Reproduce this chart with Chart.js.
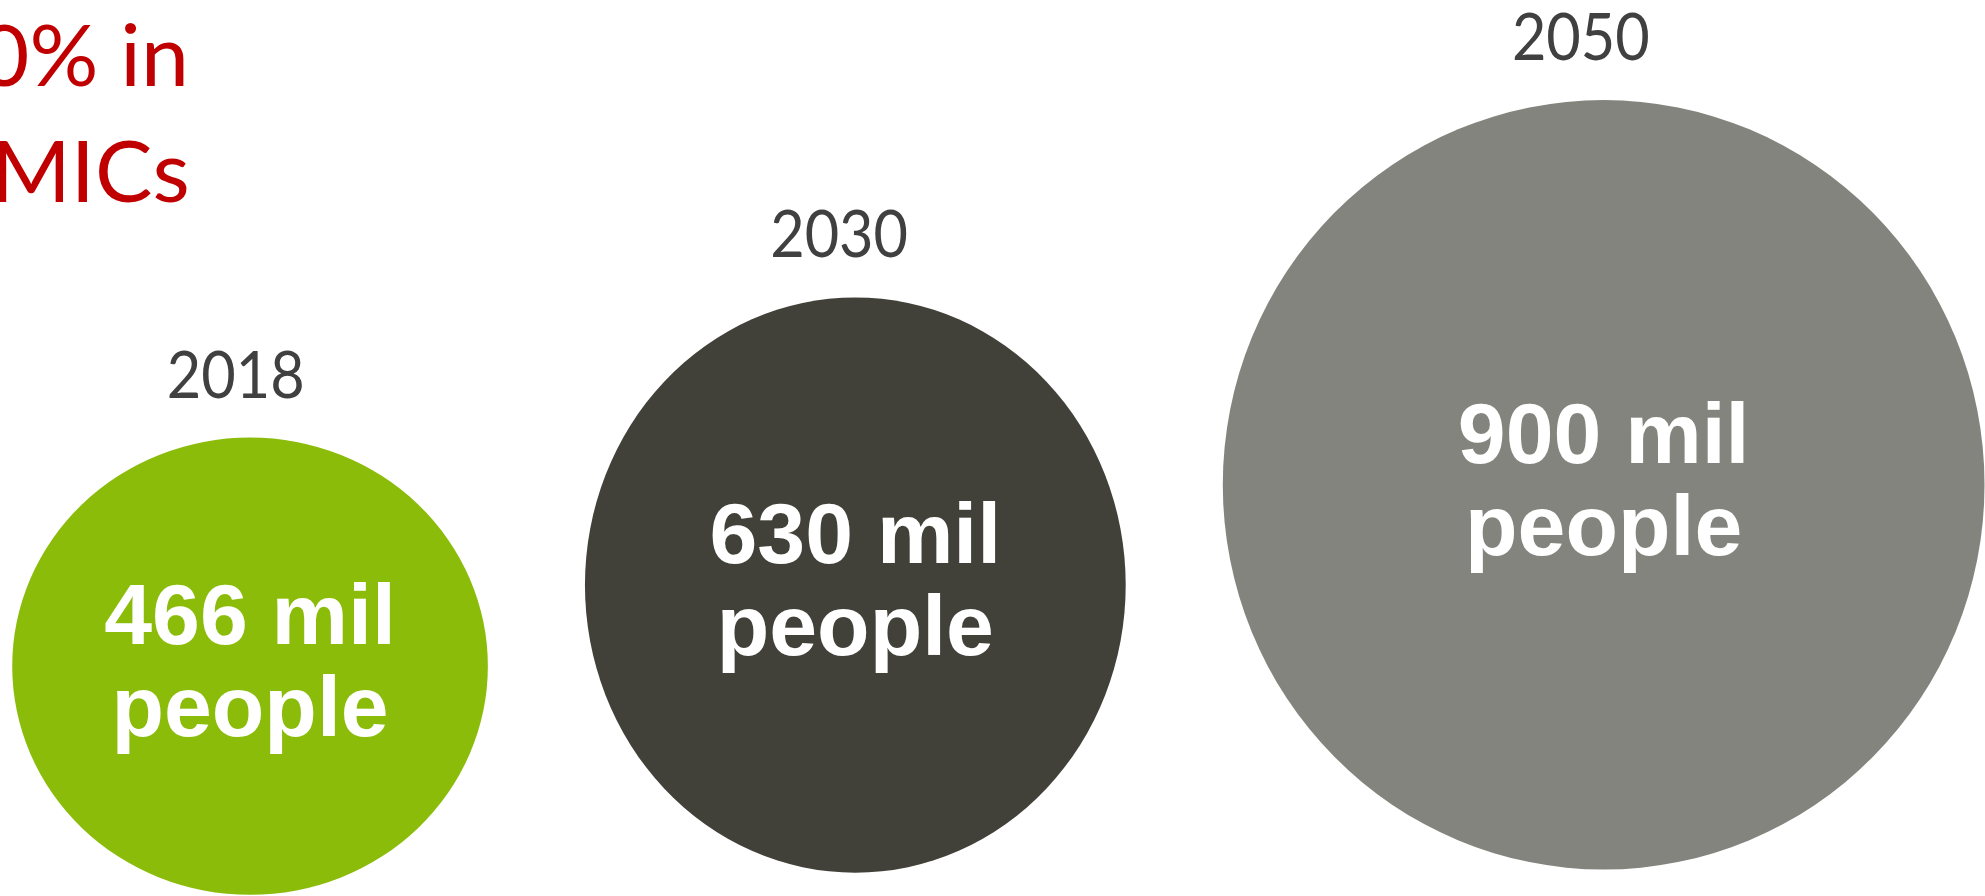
<!DOCTYPE html>
<html>
<head>
<meta charset="utf-8">
<title>People affected: 2018, 2030, 2050</title>
<script src="https://cdn.jsdelivr.net/npm/chart.js@4.4.1/dist/chart.umd.min.js"></script>
<style>
  html, body { margin: 0; padding: 0; background: #ffffff; overflow: hidden; }
  #wrap { position: relative; width: 1985px; height: 896px; }
  canvas { display: block; }
</style>
</head>
<body>
<div id="wrap"><canvas id="chart" width="1985" height="896"></canvas></div>
<script>
// ---- data -------------------------------------------------------------
const years = ['2018', '2030', '2050'];
const peopleMillions = [466, 630, 900];
const valueSuffix = 'mil';
const valueSecondLine = 'people';
const calloutLines = ['0% in', 'MICs'];

// ---- styles -----------------------------------------------------------
const discColors = ['#8bbc0a', '#41413a', '#84847e'];
const ovalStretch = [1.04, 0.94, 0.99];      // width / height of each disc
const yearColor = '#404040';
const calloutColor = '#c00000';
const yearFont = '400 66px Lato, "Open Sans", sans-serif';
const yearNarrow = 0.9;                      // horizontal squeeze of the year labels
const valueFont = '700 86px "Liberation Sans", Arial, sans-serif';
const calloutFont = '400 86px Lato, "Open Sans", sans-serif';

// ---- layout (in value units, i.e. millions of people) ----------------
const BASE_SIZE = 170;     // every disc gets this extra height on top of its value
const LEFT_MARGIN = 17;
const GAP = 135;
const RISE_Y0 = 237;       // disc centres sit on a line rising to the right
const RISE_SLOPE = 0.134;
const Y_MIN = -36, Y_MAX = 1210;
const X_MIN = 0, X_MAX = X_MIN + (Y_MAX - Y_MIN) * 1985 / 896;   // equal units on both axes

// discs packed left to right, centres on the rising line
let cursor = LEFT_MARGIN;
const discPoints = peopleMillions.map((v, i) => {
  const h = v + BASE_SIZE;
  const w = h * ovalStretch[i];
  const cx = cursor + w / 2;
  const pt = { x: cx, y: RISE_Y0 + RISE_SLOPE * cx, r: 0, value: v, year: years[i] };
  cursor += w + GAP;
  return pt;
});

// half sizes of a disc in pixels, measured through the chart scales
function discRadii(chart, p, i) {
  const xs = chart.scales.x, ys = chart.scales.y;
  const h = p.value + BASE_SIZE;
  const w = h * ovalStretch[i];
  const rx = Math.abs(xs.getPixelForValue(p.x + w / 2) - xs.getPixelForValue(p.x));
  const ry = Math.abs(ys.getPixelForValue(p.y + h / 2) - ys.getPixelForValue(p.y));
  return { rx, ry };
}

// bubble controller that draws oval discs
class OvalBubbleController extends Chart.BubbleController {
  draw() {
    const chart = this.chart;
    const ctx = chart.ctx;
    const meta = this._cachedMeta;
    const ds = this.getDataset();
    ctx.save();
    meta.data.forEach((el, i) => {
      const p = ds.data[i];
      const { rx, ry } = discRadii(chart, p, i);
      ctx.beginPath();
      ctx.ellipse(el.x, el.y, rx, ry, 0, 0, Math.PI * 2);
      ctx.fillStyle = ds.backgroundColor[i];
      ctx.fill();
    });
    ctx.restore();
  }
}
OvalBubbleController.id = 'ovalBubble';
OvalBubbleController.defaults = Chart.BubbleController.defaults;
OvalBubbleController.overrides = Chart.BubbleController.overrides;
Chart.register(OvalBubbleController);

// value text inside each disc, year above it, callout in the corner
const discLabels = {
  id: 'discLabels',
  afterDatasetsDraw(chart) {
    const ctx = chart.ctx;
    const meta = chart.getDatasetMeta(0);
    const ds = chart.data.datasets[0];
    ctx.save();
    meta.data.forEach((el, i) => {
      const p = ds.data[i];
      const { rx, ry } = discRadii(chart, p, i);
      ctx.textAlign = 'center';
      ctx.textBaseline = 'alphabetic';
      ctx.fillStyle = '#ffffff';
      ctx.font = valueFont;
      ctx.fillText(p.value + ' ' + valueSuffix, el.x, el.y - 22);
      ctx.fillText(valueSecondLine, el.x, el.y + 70);

      ctx.save();
      ctx.translate(el.x - rx * 0.06, el.y - ry - 40);
      ctx.scale(yearNarrow, 1);
      ctx.fillStyle = yearColor;
      ctx.font = yearFont;
      ctx.fillText(p.year, 0, 0);
      ctx.restore();
    });
    ctx.fillStyle = calloutColor;
    ctx.font = calloutFont;
    ctx.textAlign = 'right';
    ctx.fillText(calloutLines[0], 189, 86);
    ctx.textAlign = 'left';
    ctx.fillText(calloutLines[1], -9, 202);
    ctx.restore();
  }
};

new Chart(document.getElementById('chart'), {
  type: 'ovalBubble',
  data: {
    datasets: [{
      label: 'People (millions)',
      data: discPoints,
      backgroundColor: discColors,
      clip: false
    }]
  },
  options: {
    responsive: false,
    maintainAspectRatio: false,
    animation: false,
    devicePixelRatio: 1,
    layout: { autoPadding: false, padding: 0 },
    plugins: { legend: { display: false }, tooltip: { enabled: false } },
    events: [],
    scales: {
      x: { type: 'linear', display: false, min: X_MIN, max: X_MAX },
      y: { type: 'linear', display: false, min: Y_MIN, max: Y_MAX }
    }
  },
  plugins: [discLabels]
});
</script>
</body>
</html>
